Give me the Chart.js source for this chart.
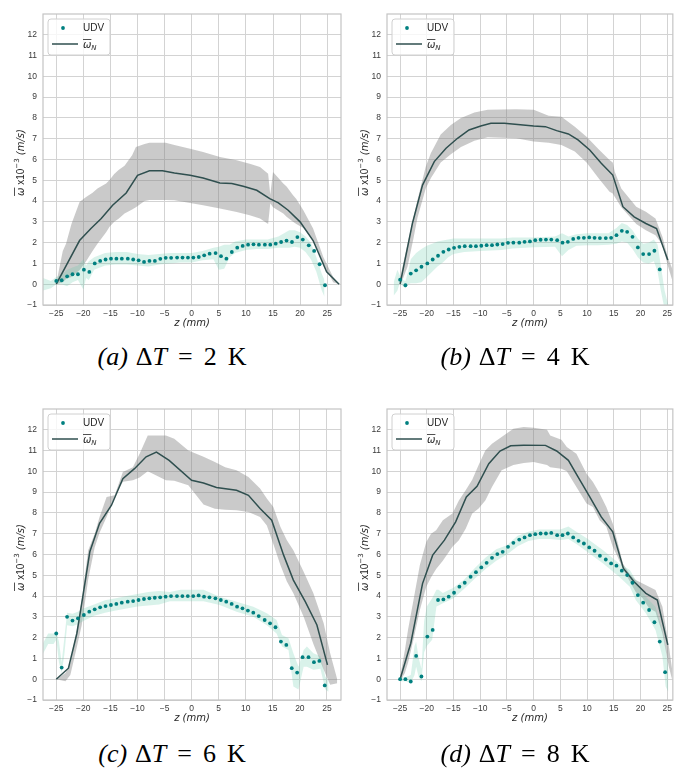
<!DOCTYPE html>
<html><head><meta charset="utf-8">
<script src="https://cdn.jsdelivr.net/npm/chart.js@4.4.1/dist/chart.umd.min.js"></script>
<style>
html,body{margin:0;padding:0;background:#fff;}
body{width:676px;height:768px;position:relative;overflow:hidden;}
.panel{position:absolute;}
.cap{position:absolute;font-family:"Liberation Serif","DejaVu Serif",serif;font-size:26px;line-height:30px;color:#000;white-space:nowrap;transform:translateX(-50%);word-spacing:1.5px;}
.cap .eq{margin:0 3px;}
.cap .k{margin-left:3px;}
</style></head><body>
<div class="panel" style="left:0;top:0;width:345px;height:335px"><canvas id="ca"></canvas></div>
<div class="panel" style="left:344px;top:0;width:332px;height:335px"><canvas id="cb"></canvas></div>
<div class="panel" style="left:0;top:395px;width:345px;height:335px"><canvas id="cc"></canvas></div>
<div class="panel" style="left:344px;top:395px;width:332px;height:335px"><canvas id="cd"></canvas></div>
<div class="cap" style="left:172px;top:342px"><i>(a)</i> Δ<i>T</i> <span class="eq">=</span> 2 <span class="k">K</span></div>
<div class="cap" style="left:515px;top:342px"><i>(b)</i> Δ<i>T</i> <span class="eq">=</span> 4 <span class="k">K</span></div>
<div class="cap" style="left:172px;top:739px"><i>(c)</i> Δ<i>T</i> <span class="eq">=</span> 6 <span class="k">K</span></div>
<div class="cap" style="left:515px;top:739px"><i>(d)</i> Δ<i>T</i> <span class="eq">=</span> 8 <span class="k">K</span></div>
<script>
// ---------- data ----------
const TICKS_X = [-25,-20,-15,-10,-5,0,5,10,15,20,25];
const TICKS_Y = [-1,0,1,2,3,4,5,6,7,8,9,10,11,12];
const Z_UDV = [-25.0,-24.0,-23.0,-22.0,-21.0,-19.9,-18.9,-17.9,-16.9,-15.9,-14.9,-13.9,-12.9,-11.8,-10.8,-9.8,-8.8,-7.8,-6.8,-5.8,-4.8,-3.8,-2.7,-1.7,-0.7,0.3,1.3,2.3,3.3,4.4,5.4,6.4,7.4,8.4,9.4,10.4,11.4,12.4,13.5,14.5,15.5,16.5,17.5,18.5,19.5,20.5,21.6,22.6,23.6,24.6];

// (a) dT = 2 K
const udvA = [0.16,0.19,0.38,0.48,0.48,0.7,0.59,1.0,1.12,1.19,1.23,1.23,1.23,1.23,1.19,1.15,1.07,1.12,1.12,1.22,1.27,1.27,1.28,1.28,1.28,1.28,1.31,1.39,1.47,1.5,1.35,1.23,1.55,1.76,1.84,1.9,1.92,1.9,1.9,1.9,1.95,2.03,2.1,2.03,2.27,2.15,1.87,1.6,0.96,-0.05];
const udvBandZA = [-27.5,-26,-25,-24,-23,-22,-21,-20,-19.5,-19,-18,-16,-14,-12,-10,-8,-6,-4,-2,0,2,4,5,6,7,8,10,12,14,16,18,19,20,21,22,23,24,24.5];
const udvLoA = [-0.3,-0.2,0.0,0.0,-0.1,0.1,0.2,-0.25,0.3,0.2,0.7,0.9,0.95,0.95,0.9,0.85,0.95,1.0,1.05,1.05,1.15,1.2,0.7,0.75,1.3,1.5,1.65,1.7,1.7,1.75,1.75,1.8,1.75,1.55,1.2,0.6,-0.3,-0.6];
const udvHiA = [0.3,0.15,0.35,0.45,0.7,0.8,0.9,1.2,0.9,1.1,1.3,1.5,1.55,1.55,1.45,1.4,1.45,1.5,1.5,1.5,1.6,1.75,1.8,1.9,1.9,2.05,2.15,2.15,2.15,2.3,2.6,2.6,2.5,2.3,2.0,1.3,0.5,0.2];
const nZA = [-25,-20.7,-18.6,-16.7,-14.6,-12.1,-10,-7.8,-5.4,-3.2,-0.3,2.1,5.2,7.4,9.5,12.0,14.4,16.0,17.8,20.0,22.4,24.9,27.2];
const nA = [0,2.1,2.68,3.16,3.8,4.39,5.24,5.46,5.46,5.35,5.24,5.11,4.87,4.84,4.71,4.52,4.12,3.91,3.56,3.0,2.1,0.6,0];
const gZA = [-25,-23.8,-23.2,-22.2,-20.7,-19.5,-18.3,-17.4,-15.8,-15.2,-14.3,-13.5,-12.4,-11,-10.3,-8.7,-7.8,-4.8,-3.2,-0.3,2.1,5.2,8.3,10.7,12.6,14.1,14.5,15.0,16.9,17.5,18.7,19.3,20.6,22.4,24.3,26.1,27.2];
const gHiA = [0.05,1.6,1.95,2.9,3.95,4.2,4.4,4.6,4.84,5.0,5.3,5.5,5.7,6.2,6.6,6.75,6.8,6.8,6.7,6.52,6.36,6.12,5.96,5.8,5.64,5.32,4.3,5.4,4.84,4.7,4.28,4.1,3.56,2.68,1.3,0.35,0];
const gLoA = [0,0.1,0.25,0.35,0.67,1.1,1.6,1.95,2.5,2.75,3.0,3.15,3.4,3.6,3.7,4.0,4.05,4.05,4.04,3.91,3.8,3.64,3.48,3.32,3.16,2.9,3.9,3.7,3.4,3.24,3.0,2.9,2.7,2.1,1.0,0.1,0];

// (b) dT = 4 K
const udvB = [0.22,-0.05,0.51,0.67,0.84,1.0,1.19,1.37,1.56,1.67,1.75,1.8,1.83,1.83,1.83,1.85,1.88,1.88,1.91,1.93,1.99,2.0,2.0,2.04,2.06,2.12,2.14,2.15,2.15,2.12,2.0,2.04,2.18,2.23,2.23,2.25,2.23,2.22,2.22,2.23,2.36,2.57,2.52,2.28,1.77,1.45,1.45,1.61,0.71];
const udvBandZB = [-26.2,-25.5,-25,-24.5,-24,-23.5,-23,-22,-21,-20,-19,-18,-17,-16,-15,-13,-10,-6,-4,0,4,5.3,6.5,8,10,12,14,15.5,16.5,17.5,18.5,19.5,20.5,21.5,22.5,23.2,23.8,24.5,25.2];
const udvLoB = [-0.55,-0.3,0.1,-0.1,-0.2,0.0,0.05,0.05,0.1,0.35,0.6,0.85,1.05,1.3,1.45,1.55,1.6,1.65,1.72,1.78,1.8,1.35,1.65,1.85,1.88,1.88,1.9,1.95,2.05,2.0,1.7,1.3,1.05,1.0,1.1,0.6,-0.3,-1.2,-1.5];
const udvHiB = [0.1,0.7,0.4,0.2,0.15,0.6,1.2,1.5,1.7,1.85,1.95,2.05,2.1,2.15,2.2,2.2,2.2,2.2,2.25,2.25,2.3,2.45,2.3,2.4,2.45,2.45,2.45,2.7,2.95,2.85,2.6,2.2,1.95,2.0,2.15,1.9,0.9,-0.3,-1.0];
const nZB = [-25,-22.7,-20.8,-18.6,-16.4,-14.25,-12.1,-9.9,-8,-5.5,0,2.2,4.3,6.5,8.3,10.5,12.65,14.8,16.7,18.8,21,23.0,25.1];
const nB = [0,2.92,4.77,5.9,6.54,7.02,7.42,7.61,7.74,7.74,7.61,7.58,7.39,7.23,6.94,6.46,5.82,5.25,3.73,3.24,2.92,2.68,1.16];
const gZB = [-25,-23.6,-22.5,-21.75,-20.2,-19.25,-17.4,-15.5,-13.6,-11.1,-8.6,-3.3,0,2.8,5.2,7.7,9.9,12.3,14.2,14.8,15.2,16.4,19.2,21.0,22.8,24.1,25.1,26.05];
const gHiB = [0.3,1.96,3.2,4.05,5.65,6.3,7.2,7.66,8.0,8.26,8.39,8.42,8.39,8.1,8.06,7.58,7.1,6.46,5.98,5.85,5.4,4.61,3.73,3.49,3.16,2.28,1.3,0.67];
const gLoB = [-0.1,0.85,2.2,3.2,4.6,5.1,5.85,6.25,6.6,6.9,7.07,7.02,6.86,6.81,6.7,6.38,5.85,5.05,4.45,4.37,4.2,3.7,2.9,2.6,2.35,1.9,0.9,0.1];

// (c) dT = 6 K
const udvC = [2.2,0.56,3.0,2.82,2.93,3.09,3.25,3.36,3.46,3.52,3.57,3.62,3.68,3.73,3.76,3.81,3.86,3.89,3.92,3.94,3.97,4.0,4.0,4.0,4.0,4.0,4.03,3.97,3.94,3.89,3.81,3.73,3.62,3.49,3.41,3.3,3.2,3.04,2.85,2.69,2.5,1.81,1.65,0.53,0.32,1.06,1.06,0.82,0.88,-0.3];
const udvBandZC = [-27.5,-26.5,-25.5,-25,-24.5,-24,-23.5,-23,-22,-21,-20,-18,-16,-14,-12,-10,-8,-6,-4,-2,0,2.2,5.2,8.3,11.4,13.9,15.7,16.7,17.9,18.8,19.75,20.7,21.3,22.5,23.8,24.7,25.3];
const udvLoC = [1.2,1.7,1.7,1.9,0.8,0.3,1.2,2.6,2.55,2.65,2.8,3.05,3.2,3.3,3.4,3.5,3.55,3.6,3.75,3.75,3.75,3.75,3.57,3.25,3.0,2.6,2.2,1.57,1.4,-0.35,-0.5,0.6,0.6,0.45,0.5,-0.5,-0.6];
const udvHiC = [1.7,2.2,2.2,2.3,1.8,0.8,2.0,3.2,3.15,3.25,3.4,3.6,3.8,3.9,4.0,4.1,4.2,4.25,4.2,4.3,4.3,4.3,3.97,3.73,3.49,3.17,2.85,2.13,1.97,1.25,0.6,1.4,1.57,1.25,1.1,0.13,-0.1];
const nZC = [-25,-22.75,-21.2,-20,-18.8,-17,-14.8,-12.7,-10.55,-8.4,-6.5,-4.15,0,2.2,4.6,8.3,10.5,12.65,14.8,17,18.8,21,23.15,25.1];
const nC = [0,0.53,2.2,4.13,6.13,7.5,8.37,9.65,10.13,10.7,10.93,10.53,9.57,9.44,9.22,9.09,8.85,8.21,7.65,5.97,4.77,3.73,2.61,0.69];
const gZC = [-25,-23.3,-22.4,-21.2,-20.3,-19.1,-17.9,-17.0,-15.7,-14.2,-12.7,-10.85,-9.6,-8.1,-4.75,-3.2,-0.6,2.2,4.3,6.2,8.3,10.5,12.65,13.9,15.1,16.4,17.6,18.8,20.7,22.5,24.4,25.6,26.9];
const gHiC = [0,0.3,0.77,2.37,3.8,6.2,7.0,7.8,8.77,8.85,9.97,10.2,10.85,11.73,11.73,11.57,11.0,10.7,10.45,10.2,10.05,9.73,9.17,8.69,8.29,7.33,6.69,6.2,5.17,4.13,2.69,1.25,0];
const gLoC = [0,-0.1,0.2,1.55,2.6,4.8,6.35,7.05,7.8,8.8,9.5,9.57,9.7,10.0,9.57,9.55,9.33,8.4,8.2,8.15,8.13,8.05,7.8,7.4,6.5,5.5,4.7,4.13,3.0,1.7,0.45,-0.27,-0.2];

// (d) dT = 8 K
const udvD = [0,0,-0.11,1.12,0.13,2.05,2.37,3.81,3.84,3.97,4.16,4.45,4.64,4.93,5.15,5.38,5.6,5.84,6.02,6.13,6.37,6.56,6.72,6.82,6.93,6.98,7.01,7.01,7.04,6.93,6.93,7.01,6.82,6.66,6.53,6.34,6.18,5.94,5.76,5.57,5.46,5.22,5.01,4.64,4.05,3.68,3.33,2.74,1.81,0.34];
const udvBandZD = [-25,-24,-23,-22.3,-22,-21.5,-21,-20.5,-20,-19,-18.2,-17.8,-17,-15,-13,-11,-9,-7,-5,-3,-1,1,3,5,6.5,8,10,13,16,18,19.1,21,22.8,24.1,24.7,25.2];
const udvLoD = [-0.1,-0.1,-0.2,0.2,0.6,0.1,-0.1,1.3,1.6,1.9,3.5,3.55,3.65,3.9,4.35,4.85,5.3,5.7,6.0,6.4,6.65,6.75,6.75,6.7,6.75,6.5,6.13,5.57,4.93,4.45,3.81,3.17,2.37,1.09,-0.35,-0.6];
const udvHiD = [0.1,0.1,0.2,1.6,1.8,1.0,0.5,2.8,3.5,3.9,4.3,4.3,4.15,4.4,4.8,5.35,5.85,6.25,6.45,6.9,7.1,7.2,7.2,7.2,7.35,7.1,6.77,6.2,5.57,5.25,4.77,3.97,3.49,2.37,1.5,0.5];
const nZD = [-25,-23.0,-20.8,-18.9,-16.7,-14.6,-12.6,-10.6,-8.4,-6.3,-4.3,-1.85,2.2,4.3,6.5,8.3,10.5,12.65,14.8,16.8,18.8,21,23.15,25.1];
const nD = [0,1.73,4.6,5.97,6.69,7.57,8.77,9.28,10.37,10.98,11.23,11.26,11.25,10.98,10.53,9.73,8.77,7.81,7.09,5.33,4.69,4.13,3.81,1.65];
const gZD = [-25,-24.1,-23.5,-22.5,-21.3,-20.1,-19.2,-18.25,-17.0,-15.2,-14.0,-12.7,-11.5,-10.3,-9.05,-7.8,-6.0,-3.8,-1.85,0,2.5,3.1,5.2,6.2,8.0,9.9,11.1,12.35,13.6,14.8,15.7,16.7,17.9,19.1,20.4,21.6,22.8,24.1,25.3,25.9];
const gHiD = [0.1,1.4,2.4,3.8,5.5,6.6,7.0,7.17,7.65,7.97,8.6,9.1,9.6,10.3,11.0,11.33,11.65,12.05,12.13,12.1,12.0,11.73,11.52,11.17,10.85,9.89,9.49,8.93,8.29,7.49,6.6,5.57,5.09,4.77,4.6,4.45,4.29,3.49,1.6,0.5];
const gLoD = [-0.1,0.3,0.8,1.9,3.33,4.45,4.9,5.3,5.7,6.37,6.69,7.25,7.97,8.21,8.6,9.25,10.05,10.3,10.4,10.45,10.3,10.2,10.13,10.0,9.25,8.45,8.29,7.65,7.33,6.37,5.89,5.3,4.75,4.2,3.89,3.41,3.25,2.2,0.6,0];

// ---------- styling ----------
const TEAL = '#008080';
const TEAL_BAND = 'rgba(102,205,170,0.25)';
const GRAY_BAND = 'rgba(128,128,128,0.42)';
const LINE_COL = '#2f4f4f';
const GRID_COL = '#d3d3d3';
const FRAME_COL = '#c4c4c4';
const TXT = '#262626';
const TICK_TXT = '#3a3a3a';

function pts(xs, ys){ return ys.map((v,i)=>({x:xs[i], y:v})); }

const decoPlugin = {
  id:'deco',
  afterDatasetsDraw(chart){
    const ctx = chart.ctx, a = chart.chartArea;
    ctx.save();
    ctx.strokeStyle = FRAME_COL; ctx.lineWidth = 1.2;
    ctx.strokeRect(a.left, a.top, a.right-a.left, a.bottom-a.top);
    ctx.restore();
    // legend
    const x0 = a.left+5, y0 = a.top+5, w = 62, h = 36, r = 3;
    ctx.save();
    ctx.beginPath();
    ctx.moveTo(x0+r, y0); ctx.lineTo(x0+w-r, y0); ctx.arcTo(x0+w, y0, x0+w, y0+r, r);
    ctx.lineTo(x0+w, y0+h-r); ctx.arcTo(x0+w, y0+h, x0+w-r, y0+h, r);
    ctx.lineTo(x0+r, y0+h); ctx.arcTo(x0, y0+h, x0, y0+h-r, r);
    ctx.lineTo(x0, y0+r); ctx.arcTo(x0, y0, x0+r, y0, r); ctx.closePath();
    ctx.fillStyle = 'rgba(255,255,255,0.8)'; ctx.fill();
    ctx.strokeStyle = '#d0d0d0'; ctx.lineWidth = 1; ctx.stroke();
    ctx.fillStyle = TEAL; ctx.beginPath(); ctx.arc(x0+15, y0+9, 1.9, 0, Math.PI*2); ctx.fill();
    ctx.fillStyle = TXT; ctx.font = '10px "Liberation Sans", Arial, sans-serif';
    ctx.textBaseline = 'middle'; ctx.textAlign = 'left';
    ctx.fillText('UDV', x0+35, y0+9);
    ctx.strokeStyle = LINE_COL; ctx.lineWidth = 1.5;
    ctx.beginPath(); ctx.moveTo(x0+4, y0+25); ctx.lineTo(x0+30, y0+25); ctx.stroke();
    ctx.textBaseline = 'alphabetic';
    ctx.font = 'italic 10px "DejaVu Sans"';
    const wo = ctx.measureText('ω').width;
    ctx.fillText('ω', x0+35, y0+29);
    ctx.fillRect(x0+35, y0+20, wo, 0.8);
    ctx.font = 'italic 7px "DejaVu Sans"';
    ctx.fillText('N', x0+35+wo, y0+31);
    ctx.restore();
    // y title
    ctx.save();
    ctx.translate(a.left-23, (a.top+a.bottom)/2+3);
    ctx.rotate(-Math.PI/2);
    const parts = [
      {t:'ω', f:'italic 10px "DejaVu Sans"', dy:0, over:true},
      {t:' x10', f:'10px "Liberation Sans", Arial, sans-serif', dy:0},
      {t:'−3', f:'7px "DejaVu Sans"', dy:-4.5},
      {t:' (m/s)', f:'italic 10px "DejaVu Sans"', dy:0}
    ];
    let W = 0;
    parts.forEach(p=>{ ctx.font = p.f; p.w = ctx.measureText(p.t).width; W += p.w; });
    let x = -W/2;
    ctx.fillStyle = TXT; ctx.textBaseline = 'alphabetic'; ctx.textAlign = 'left';
    parts.forEach(p=>{
      ctx.font = p.f; ctx.fillText(p.t, x, 3.5+p.dy);
      if (p.over) ctx.fillRect(x, 3.5-9.5, p.w, 0.8);
      x += p.w;
    });
    ctx.restore();
  }
};

function makeChart(id, cfg){
  const datasets = [
    {data: pts(Z_UDV, cfg.udv), showLine:false, pointRadius:1.9, pointHoverRadius:1.9, pointBackgroundColor:TEAL, pointBorderWidth:0, borderColor:TEAL, order:0},
    {data: pts(cfg.nz, cfg.n), borderColor:LINE_COL, borderWidth:1.5, pointRadius:0, tension:0, fill:false, order:1},
    {data: pts(cfg.bz, cfg.blo), borderWidth:0, pointRadius:0, fill:false, order:3},
    {data: pts(cfg.bz, cfg.bhi), borderWidth:0, pointRadius:0, fill:'-1', backgroundColor:TEAL_BAND, order:3},
    {data: pts(cfg.gz, cfg.glo), borderWidth:0, pointRadius:0, fill:false, order:5},
    {data: pts(cfg.gz, cfg.ghi), borderWidth:0, pointRadius:0, fill:'-1', backgroundColor:GRAY_BAND, order:5}
  ];
  return new Chart(document.getElementById(id), {
    type:'line',
    data:{datasets},
    options:{
      responsive:true, maintainAspectRatio:false, animation:false,
      devicePixelRatio:1,
      layout:{padding:{left:0, top:14, right:cfg.padRight, bottom:0}},
      plugins:{legend:{display:false}, tooltip:{enabled:false}},
      scales:{
        x:{type:'linear', min:cfg.xmin, max:cfg.xmax,
           afterBuildTicks(s){ s.ticks = TICKS_X.map(v=>({value:v})); },
           afterFit(s){ s.height = 30; },
           grid:{color:GRID_COL, lineWidth:1, drawTicks:false},
           border:{display:false},
           ticks:{padding:4, color:TICK_TXT, font:{family:'"Liberation Sans", Arial, sans-serif', size:8.5},
                  maxRotation:0, autoSkip:false,
                  callback:v=> (v<0? '\u2212'+Math.abs(v) : String(v))},
           title:{display:true, text:'z (mm)', color:TXT, padding:{top:0,bottom:6},
                  font:{family:'"DejaVu Sans"', size:10, style:'italic'}}
        },
        y:{min:-1, max:13,
           afterBuildTicks(s){ s.ticks = TICKS_Y.map(v=>({value:v})); },
           afterFit(s){ s.width = 43; },
           grid:{color:GRID_COL, lineWidth:1, drawTicks:false},
           border:{display:false},
           ticks:{padding:6, color:TICK_TXT, font:{family:'"Liberation Sans", Arial, sans-serif', size:8.5},
                  autoSkip:false,
                  callback:v=> (v<0? '\u2212'+Math.abs(v) : String(v))},
           title:{display:false}
        }
      }
    },
    plugins:[decoPlugin]
  });
}

makeChart('ca', {udv:udvA, bz:udvBandZA, blo:udvLoA, bhi:udvHiA, nz:nZA, n:nA, gz:gZA, glo:gLoA, ghi:gHiA, xmin:-27.45, xmax:27.55, padRight:4});
makeChart('cb', {udv:udvB, bz:udvBandZB, blo:udvLoB, bhi:udvHiB, nz:nZB, n:nB, gz:gZB, glo:gLoB, ghi:gHiB, xmin:-27.45, xmax:26.05, padRight:1});
makeChart('cc', {udv:udvC, bz:udvBandZC, blo:udvLoC, bhi:udvHiC, nz:nZC, n:nC, gz:gZC, glo:gLoC, ghi:gHiC, xmin:-27.45, xmax:27.6, padRight:4});
makeChart('cd', {udv:udvD, bz:udvBandZD, blo:udvLoD, bhi:udvHiD, nz:nZD, n:nD, gz:gZD, glo:gLoD, ghi:gHiD, xmin:-27.45, xmax:26.05, padRight:1});
</script>
</body></html>
